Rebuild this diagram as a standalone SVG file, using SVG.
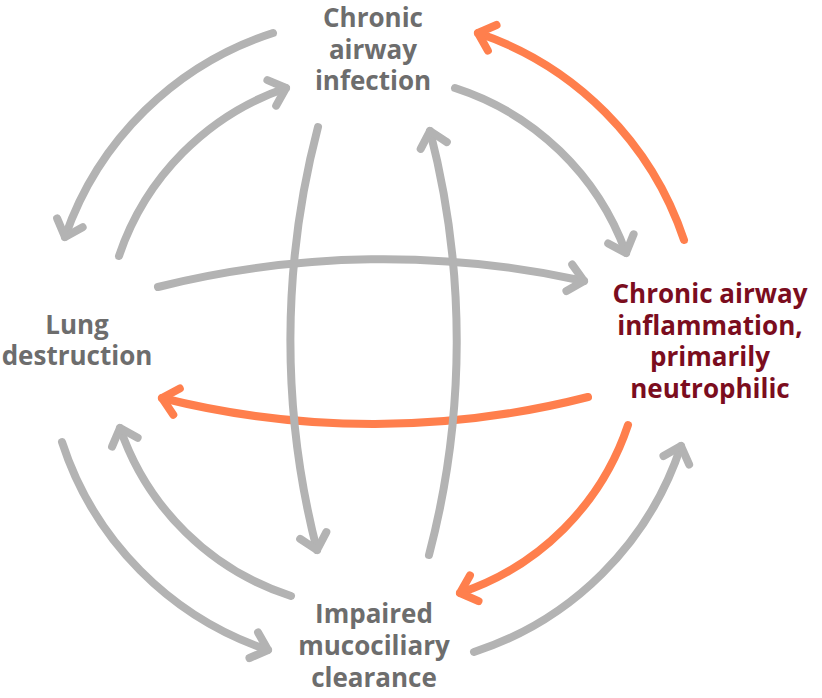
<svg xmlns="http://www.w3.org/2000/svg" width="822" height="698" viewBox="0 0 822 698">
<style>
.lbl{font-family:"Open Sans","Liberation Sans",sans-serif;font-weight:700;font-size:26px;text-anchor:middle}
.g{fill:#6d6d6d}
.r{fill:#7b0d1e}
.cg{fill:none;stroke:#b3b3b3;stroke-width:8;stroke-linecap:round;marker-end:url(#ag)}
.co{fill:none;stroke:#ff7f4d;stroke-width:8;stroke-linecap:round;marker-end:url(#ao)}
</style>
<defs>
<marker id="ag" markerUnits="userSpaceOnUse" orient="auto" overflow="visible" markerWidth="1" markerHeight="1" refX="0" refY="0">
<path d="M-15,-13.5 L0,0 L-15,13.5" fill="none" stroke="#b3b3b3" stroke-width="8" stroke-linecap="round" stroke-linejoin="round"/>
</marker>
<marker id="ao" markerUnits="userSpaceOnUse" orient="auto" overflow="visible" markerWidth="1" markerHeight="1" refX="0" refY="0">
<path d="M-15,-13.5 L0,0 L-15,13.5" fill="none" stroke="#ff7f4d" stroke-width="8" stroke-linecap="round" stroke-linejoin="round"/>
</marker>
</defs>
<rect width="822" height="698" fill="#ffffff"/>
<g id="connectors">
<path class="cg" d="M273,33 A326,326 0 0,0 65,237"/>
<path class="cg" d="M119,256 A268,268 0 0,1 286,88"/>
<path class="cg" d="M455,88 A270,270 0 0,1 626,253"/>
<path class="co" d="M684,240 A328,328 0 0,0 478,33"/>
<path class="co" d="M628,425 A266,266 0 0,1 460,593"/>
<path class="cg" d="M474,652 A323,323 0 0,0 681,446"/>
<path class="cg" d="M291,596 A267,267 0 0,1 120,428"/>
<path class="cg" d="M62,442 A325,325 0 0,0 268,650"/>
<path class="cg" d="M158,287 A933,933 0 0,1 584,281"/>
<path class="co" d="M588,397 A869,869 0 0,1 162,398"/>
<path class="cg" d="M318,127 A839,839 0 0,0 317,550"/>
<path class="cg" d="M429,555 A839,839 0 0,0 430,131"/>
</g>
<g id="node-infection">
<text class="lbl g" x="373" y="27"><tspan x="373" y="27">Chronic</tspan><tspan x="373" y="58.5">airway</tspan><tspan x="373" y="90">infection</tspan></text>
</g>
<g id="node-inflammation">
<text class="lbl r" x="710" y="303"><tspan x="710" y="303">Chronic airway</tspan><tspan x="710" y="334.5">inflammation,</tspan><tspan x="710" y="366">primarily</tspan><tspan x="710" y="397.5">neutrophilic</tspan></text>
</g>
<g id="node-lung">
<text class="lbl g" x="77" y="334"><tspan x="77" y="334">Lung</tspan><tspan x="77" y="365">destruction</tspan></text>
</g>
<g id="node-clearance">
<text class="lbl g" x="374" y="623"><tspan x="374" y="623">Impaired</tspan><tspan x="374" y="655">mucociliary</tspan><tspan x="374" y="687">clearance</tspan></text>
</g>
</svg>
